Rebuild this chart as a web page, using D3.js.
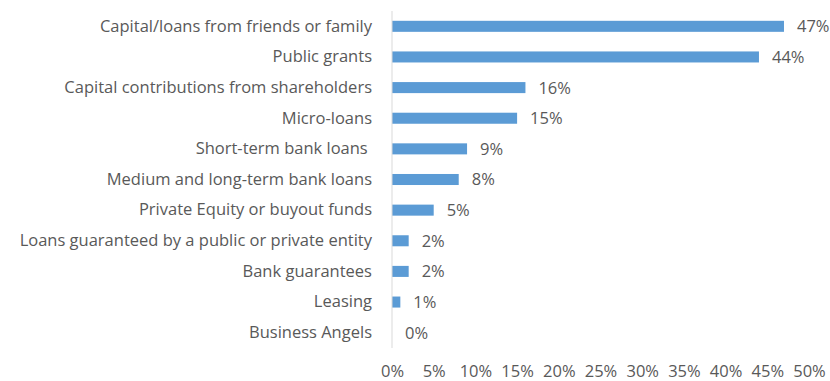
<!DOCTYPE html>
<html>
<head>
<meta charset="utf-8">
<script src="https://cdn.jsdelivr.net/npm/d3@7"></script>
<style>
  html, body { margin: 0; padding: 0; background: #ffffff; overflow: hidden; }
  svg text { font-family: "Open Sans", "Noto Sans", sans-serif; fill: #595959; white-space: pre; }
</style>
</head>
<body>
<svg id="chart" width="830" height="381"></svg>
<script>
// Sources of financing, share of respondents (%)
const categories = [
  "Capital/loans from friends or family",
  "Public grants",
  "Capital contributions from shareholders",
  "Micro-loans",
  "Short-term bank loans ",
  "Medium and long-term bank loans",
  "Private Equity or buyout funds",
  "Loans guaranteed by a public or private entity",
  "Bank guarantees",
  "Leasing",
  "Business Angels"
];
const values = [47, 44, 16, 15, 9, 8, 5, 2, 2, 1, 0];
const tickValues = [0, 5, 10, 15, 20, 25, 30, 35, 40, 45, 50];

const fontSize = 16.5;
const svg = d3.select("#chart");
const x0 = 392, x1 = 809;
const y0 = 11, y1 = 348;

const x = d3.scaleLinear().domain([0, 50]).range([x0, x1]);
const y = d3.scaleBand().domain(categories).range([y0, y1]).paddingInner(0.64).paddingOuter(0.32);

// bars
svg.append("g").selectAll("rect")
  .data(values)
  .join("rect")
  .attr("x", x(0))
  .attr("y", (d, i) => y(categories[i]))
  .attr("width", d => x(d) - x(0))
  .attr("height", y.bandwidth())
  .attr("fill", "#5b9bd5");

// value labels
svg.append("g").selectAll("text")
  .data(values)
  .join("text")
  .attr("x", d => x(d) + 13)
  .attr("y", (d, i) => y(categories[i]) + y.bandwidth() / 2)
  .attr("dy", "0.36em")
  .attr("font-size", fontSize)
  .text(d => d + "%");

// category axis
const yAxis = svg.append("g")
  .attr("transform", `translate(${x0},0)`)
  .call(d3.axisLeft(y).tickSize(0).tickPadding(20));
yAxis.select(".domain").attr("stroke", "#d9d9d9").attr("d", `M0,${y0}V${y1}`);
yAxis.selectAll("text").attr("font-size", fontSize).attr("fill", null);

// value axis (labels only)
const xAxis = svg.append("g")
  .attr("transform", `translate(0,${y1})`)
  .call(d3.axisBottom(x).tickValues(tickValues).tickFormat(d => d + "%").tickSize(0).tickPadding(17));
xAxis.select(".domain").remove();
xAxis.selectAll("text").attr("font-size", fontSize).attr("fill", null);
svg.selectAll(".tick text").attr("font-family", null);
</script>
</body>
</html>
